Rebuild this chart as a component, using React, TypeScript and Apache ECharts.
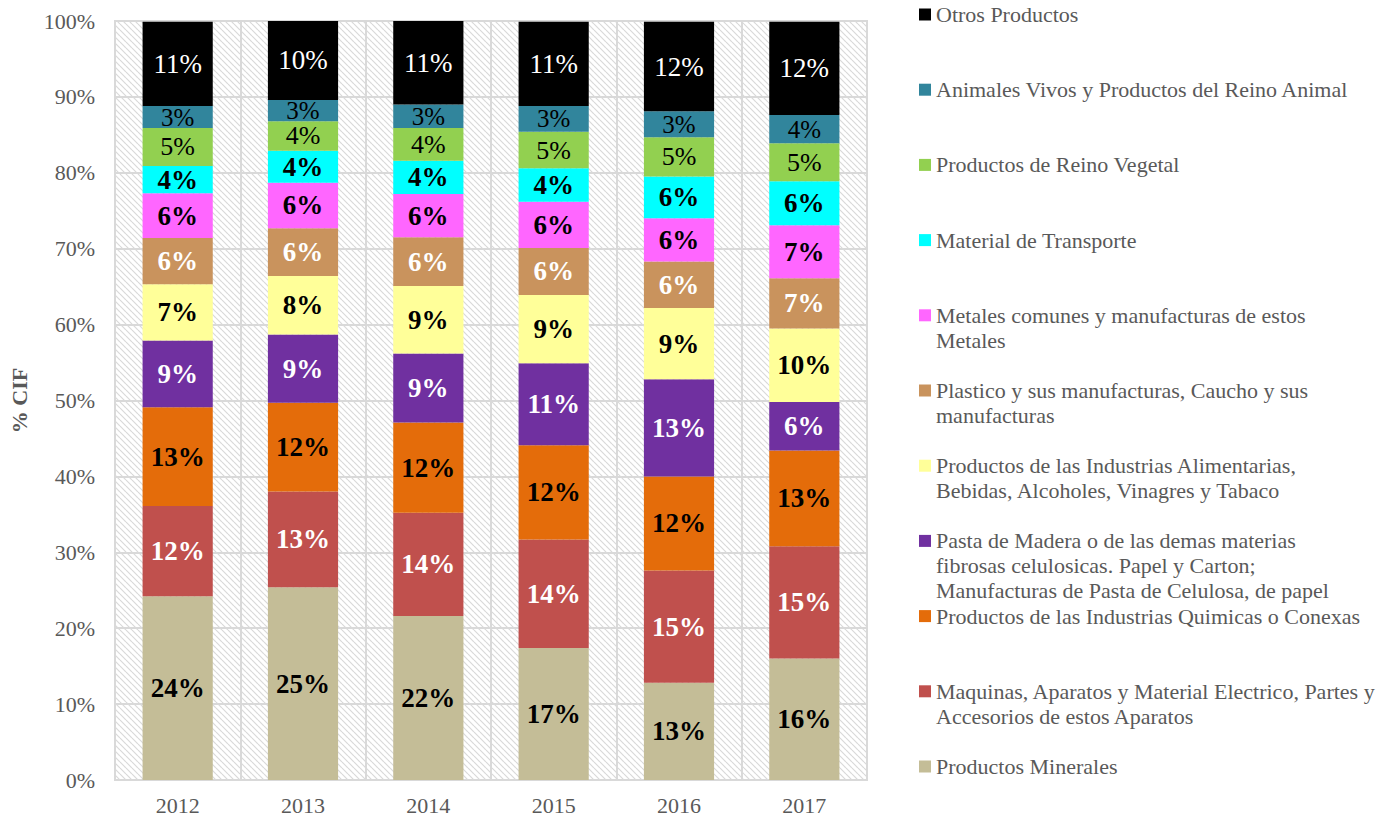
import React, { useEffect, useRef } from "react";
import * as echarts from "echarts";

const years = ["2012", "2013", "2014", "2015", "2016", "2017"];
const yTicks = [0, 10, 20, 30, 40, 50, 60, 70, 80, 90, 100];

const nameMinerales = "Productos Minerales";
const nameMaquinas = "Maquinas, Aparatos y Material Electrico, Partes y Accesorios de estos Aparatos";
const nameQuimicas = "Productos de las Industrias Quimicas o Conexas";
const namePasta = "Pasta de Madera o de las demas materias fibrosas celulosicas. Papel y Carton; Manufacturas de Pasta de Celulosa, de papel";
const nameAlimentarias = "Productos de las Industrias Alimentarias, Bebidas, Alcoholes, Vinagres y Tabaco";
const namePlastico = "Plastico y sus manufacturas, Caucho y sus manufacturas";
const nameMetales = "Metales comunes y manufacturas de estos Metales";
const nameTransporte = "Material de Transporte";
const nameVegetal = "Productos de Reino Vegetal";
const nameAnimales = "Animales Vivos y Productos del Reino Animal";
const nameOtros = "Otros Productos";

const minerales = [24.2, 25.4, 21.6, 17.4, 12.8, 16.0];
const maquinas = [11.9, 12.6, 13.6, 14.3, 14.8, 14.8];
const quimicas = [13.0, 11.7, 11.9, 12.4, 12.4, 12.6];
const pasta = [8.8, 9.0, 9.1, 10.8, 12.8, 6.4];
const alimentarias = [7.4, 7.7, 8.9, 9.0, 9.4, 9.7];
const plastico = [6.1, 6.3, 6.4, 6.2, 6.1, 6.6];
const metales = [5.9, 6.0, 5.7, 6.1, 5.7, 7.0];
const transporte = [3.6, 4.2, 4.4, 4.4, 5.5, 5.8];
const vegetal = [5.0, 3.9, 4.3, 4.8, 5.2, 5.0];
const animales = [2.9, 2.8, 3.1, 3.4, 3.4, 3.7];
const otros = [11.1, 10.4, 11.0, 11.1, 11.8, 12.3];

// legend text as wrapped in the reference
const legendWrap: Record<string, string[]> = {
  [nameOtros]: ["Otros Productos"],
  [nameAnimales]: ["Animales Vivos y Productos del Reino Animal"],
  [nameVegetal]: ["Productos de Reino Vegetal"],
  [nameTransporte]: ["Material de Transporte"],
  [nameMetales]: ["Metales comunes y manufacturas de estos", "Metales"],
  [namePlastico]: ["Plastico y sus manufacturas, Caucho y sus", "manufacturas"],
  [nameAlimentarias]: ["Productos de las Industrias Alimentarias,", "Bebidas, Alcoholes, Vinagres y Tabaco"],
  [namePasta]: [
    "Pasta de Madera o de las demas materias",
    "fibrosas celulosicas. Papel y Carton;",
    "Manufacturas de Pasta de Celulosa, de papel",
  ],
  [nameQuimicas]: ["Productos de las Industrias Quimicas o Conexas"],
  [nameMaquinas]: ["Maquinas, Aparatos y Material Electrico, Partes y", "Accesorios de estos Aparatos"],
  [nameMinerales]: ["Productos Minerales"],
};

const FONT = "'Liberation Serif', 'Times New Roman', serif";

export default function App() {
  const ref = useRef<HTMLDivElement>(null);

  useEffect(() => {
    if (!ref.current) return;
    const chart = echarts.init(ref.current, undefined, { renderer: "svg" });

    // diagonal hatch pattern for plot background
    const cv = document.createElement("canvas");
    cv.width = 6;
    cv.height = 6;
    const ctx = cv.getContext("2d");
    if (ctx) {
      ctx.fillStyle = "#ffffff";
      ctx.fillRect(0, 0, 6, 6);
      ctx.strokeStyle = "#d9d9d9";
      ctx.lineWidth = 1.2;
      for (const k of [-6, 0, 6]) {
        ctx.beginPath();
        ctx.moveTo(0, k);
        ctx.lineTo(6, k + 6);
        ctx.stroke();
      }
    }

    const seriesDefs = [
      { name: nameMinerales, data: minerales, color: "#C4BD97", label: "#000000", bold: true, size: 27 },
      { name: nameMaquinas, data: maquinas, color: "#C0504D", label: "#ffffff", bold: true, size: 27 },
      { name: nameQuimicas, data: quimicas, color: "#E46C0A", label: "#000000", bold: true, size: 27 },
      { name: namePasta, data: pasta, color: "#7030A0", label: "#ffffff", bold: true, size: 27 },
      { name: nameAlimentarias, data: alimentarias, color: "#FFFF99", label: "#000000", bold: true, size: 27 },
      { name: namePlastico, data: plastico, color: "#C9935D", label: "#ffffff", bold: true, size: 27 },
      { name: nameMetales, data: metales, color: "#FF66FF", label: "#000000", bold: true, size: 27 },
      { name: nameTransporte, data: transporte, color: "#00FFFF", label: "#000000", bold: true, size: 27 },
      { name: nameVegetal, data: vegetal, color: "#92D050", label: "#000000", bold: false, size: 26 },
      { name: nameAnimales, data: animales, color: "#31859C", label: "#000000", bold: false, size: 25 },
      { name: nameOtros, data: otros, color: "#000000", label: "#ffffff", bold: false, size: 27 },
    ];

    const legendOrder = seriesDefs.map((s) => s.name).reverse();
    const L = 25;
    const legends = legendOrder.map((name, i) => {
      const lines = legendWrap[name];
      const n = lines.length;
      const c = 14.5 + 75.2 * i;
      return {
        orient: "vertical",
        left: 919,
        top: c - ((2 * n - 1) * L) / 2,
        padding: 0,
        itemWidth: 12,
        itemHeight: 12,
        itemGap: 0,
        icon: "rect",
        selectedMode: false,
        data: [name],
        formatter: () => "\n".repeat(n - 1) + lines.join("\n"),
        textStyle: {
          fontFamily: FONT,
          fontSize: 22,
          lineHeight: L,
          color: "#595959",
        },
      };
    });

    chart.setOption({
      animation: false,
      backgroundColor: "#ffffff",
      textStyle: { fontFamily: FONT },
      legend: legends,
      grid: {
        left: 115,
        right: 514,
        top: 21,
        bottom: 36,
        show: true,
        backgroundColor: { image: cv, repeat: "repeat" },
        borderColor: "#d9d9d9",
        borderWidth: 2,
      },
      xAxis: {
        type: "category",
        data: years,
        axisLine: { lineStyle: { color: "#d9d9d9", width: 2 } },
        axisTick: { show: false },
        axisLabel: { color: "#595959", fontSize: 22, fontFamily: FONT, margin: 14 },
        splitLine: { show: true, lineStyle: { color: "#d9d9d9", width: 2 } },
      },
      yAxis: {
        type: "value",
        min: yTicks[0],
        max: yTicks[yTicks.length - 1],
        interval: 10,
        name: "% CIF",
        nameLocation: "middle",
        nameGap: 85,
        nameTextStyle: { color: "#595959", fontSize: 22, fontWeight: "bold", fontFamily: FONT },
        axisLine: { show: false },
        axisTick: { show: false },
        axisLabel: { color: "#595959", fontSize: 22, fontFamily: FONT, margin: 20, formatter: "{value}%" },
        splitLine: { show: true, lineStyle: { color: "#d9d9d9", width: 2 } },
      },
      series: seriesDefs.map((s) => ({
        name: s.name,
        type: "bar",
        stack: "total",
        data: s.data,
        barCategoryGap: "44%",
        itemStyle: { color: s.color },
        emphasis: { disabled: true },
        label: {
          show: true,
          position: "inside",
          color: s.label,
          fontWeight: s.bold ? "bold" : "normal",
          fontSize: s.size,
          lineHeight: 20,
          fontFamily: FONT,
          formatter: (p: any) => Math.round(p.value) + "%",
        },
      })),
    });

    return () => chart.dispose();
  }, []);

  return (
    <div
      ref={ref}
      style={{ position: "absolute", left: 0, top: 0, width: 1381, height: 816 }}
    />
  );
}
